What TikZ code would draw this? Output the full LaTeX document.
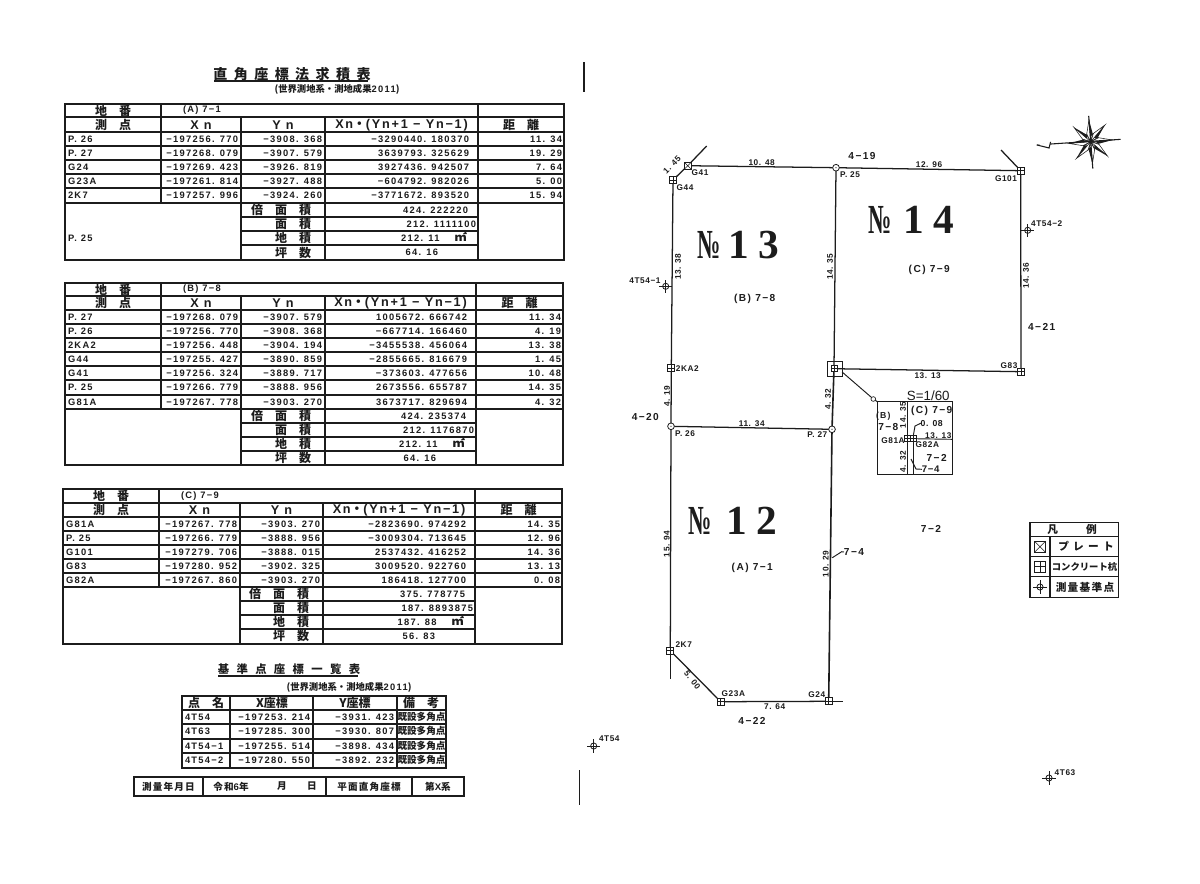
\documentclass[tikz,border=0pt]{standalone}
\usepackage{fontspec}
\setmainfont{Liberation Sans}
\newfontfamily\nf{Liberation Sans}[LetterSpace=14]
\newfontfamily\nfs{Liberation Sans}[LetterSpace=7]
\newfontfamily\jp{Noto Sans CJK JP}
\newfontfamily\jpt{Noto Sans CJK JP}[LetterSpace=46]
\newfontfamily\jpu{Noto Sans CJK JP}[LetterSpace=65]
\newfontfamily\jpp{Noto Sans CJK JP}[LetterSpace=40]
\newfontfamily\jpq{Noto Sans CJK JP}[LetterSpace=12]
\newfontfamily\se{Liberation Serif}
\newcommand\pxfont[2]{\fontsize{#1}{#2}\selectfont}
\definecolor{ink}{HTML}{1C1C1C}
\tikzset{
 x=0.75pt,y=-0.75pt,
 every node/.style={inner sep=0pt,outer sep=0pt,text=ink},
 tline/.style={draw=ink,line width=0.85pt},
 pline/.style={draw=ink,line width=0.95pt},
 thinl/.style={draw=ink,line width=0.7pt},
 num/.style={font=\nf\bfseries\pxfont{7}{8}},
 numl/.style={num,anchor=west},
 numr/.style={num,anchor=east},
 head/.style={font=\jp\bfseries\pxfont{9}{10}},
 lat/.style={font=\nf\bfseries\pxfont{9.5}{10}},
 lbl/.style={font=\nfs\bfseries\pxfont{6.2}{7}},
 mid/.style={font=\nf\bfseries\pxfont{7.6}{8}},
 stake/.style={rectangle,draw=ink,line width=0.6pt,minimum size=5.2pt,fill=white,
   path picture={\draw[line width=0.4pt,ink] (path picture bounding box.north)--(path picture bounding box.south)
     (path picture bounding box.west)--(path picture bounding box.east);}},
 plate/.style={rectangle,draw=ink,line width=0.6pt,minimum size=5.2pt,fill=white,
   path picture={\draw[line width=0.4pt,ink] (path picture bounding box.north west)--(path picture bounding box.south east)
     (path picture bounding box.south west)--(path picture bounding box.north east);}},
 pt/.style={circle,draw=ink,line width=0.6pt,minimum size=5pt,fill=white,
   path picture={\fill[ink] (path picture bounding box.center) circle (0.5pt);}},
 surv/.style={circle,draw=ink,line width=0.6pt,minimum size=4.6pt},
 big/.style={font=\se\bfseries\pxfont{31}{32}},
}
\newcommand\surveymark[2]{\node[surv] (#1) at (#2) {};
 \draw[ink,line width=0.6pt] ([xshift=-5pt]#1.center)--([xshift=5pt]#1.center) ([yshift=-5pt]#1.center)--([yshift=5pt]#1.center);}
\newcommand\bignum[3]{\node[big] (#1) at (#2) {#3};}
\newcommand\bigno[2]{\node[big] (#1) at (#2) {\scalebox{0.56}[1]{№}};}
\newcommand\sqm{\smash{\jp\bfseries\pxfont{9.5}{10}㎡}}
% grid: ytop, yh1, yh2, ydataend, ybot, {full lines}, {centre lines}
\newcommand\gridbody[7]{
 \draw[tline] (\xa,#1) rectangle (\xf,#5);
 \draw[tline] (\xa,#2)--(\xf,#2) (\xa,#3)--(\xf,#3) (\xa,#4)--(\xf,#4);
 \foreach \yy in {#6}{\draw[tline] (\xa,\yy)--(\xf,\yy);}
 \foreach \yy in {#7}{\draw[tline] (\xc,\yy)--(\xe,\yy);}
 \draw[tline] (\xb,#1)--(\xb,#4) (\xe,#1)--(\xe,#5);
 \draw[tline] (\xc,#2)--(\xc,#5) (\xd,#2)--(\xd,#5);
}
\newcommand\rowsdata[6]{% prefix, xlabel, xX, xY, xP, list
 \foreach \lab/\yy/\xv/\yv/\pv/\dv [count=\i] in {#6}{
  \node[numl] (#1l\i) at (#2,\yy) {\lab};
  \node[numr] (#1x\i) at (\xc-3,\yy) {\xv};
  \node[numr] (#1y\i) at (\xd-3,\yy) {\yv};
  \node[numr] (#1p\i) at (#5,\yy) {\pv};
  \node[numr] (#1d\i) at (\xf-2,\yy) {\dv};
 }}
\newcommand\headers[4]{% prefix, y1, y2, lot
 \node[head] (#1h1) at ({(\xa+\xb)/2},#2) {地　番};
 \node[numl] (#1lot) at (\xb+22,#2) {#4};
 \node[head] (#1h2) at ({(\xa+\xb)/2},#3) {測　点};
 \node[lat] (#1h3) at ({(\xb+\xc)/2},#3) {X n};
 \node[lat] (#1h4) at ({(\xc+\xd)/2},#3) {Y n};
 \node[lat] (#1h5) at ({(\xd+\xe)/2},#3) {Xn{\jp ・}(Yn+1 − Yn−1)};
 \node[head] (#1h6) at ({(\xe+\xf)/2},#3) {距　離};
}
\newcommand\areas[9]{% prefix, y1..y4, v1..v4
 \node[head,anchor=east] (#1s1) at (\xd-14,#2) {倍　面　積};
 \node[head,anchor=east] (#1s2) at (\xd-14,#3) {面　積};
 \node[head,anchor=east] (#1s3) at (\xd-14,#4) {地　積};
 \node[head,anchor=east] (#1s4) at (\xd-14,#5) {坪　数};
 \node[numr] (#1v1) at (\xe-10,#2) {#6};
 \node[numr] (#1v2) at (\xe-2,#3) {#7};
 \node[numr] (#1v3) at (\xe-11,#4) {#8\hspace{11pt}\sqm};
 \node[numr] (#1v4) at (\xe-40,#5) {#9};
}
\begin{document}
\begin{tikzpicture}
\useasboundingbox (0,0) rectangle (1200,883);
\fill[white] (0,0) rectangle (1200,883);
%% Titles
\node[font=\jpt\bfseries\pxfont{10.5}{11}] (t1) at (292,74) {直角座標法求積表};
\draw[ink,line width=0.8pt] (214,81)--(368,81);
\node[font=\jp\bfseries\pxfont{7}{8}] (t1s) at (337,89) {(世界測地系・測地成果{\nf 2011})};
%% Table A
\def\xa{65}\def\xb{161}\def\xc{241}\def\xd{325}\def\xe{478}\def\xf{564}
\gridbody{104}{117}{132}{203}{260}{146,160,174,188}{217,231,245}
\headers{A}{110.5}{125}{(A) 7−1}
\rowsdata{A}{68}{238}{322}{469}{
 P. 26/139/−197256. 770/−3908. 368/−3290440. 180370/11. 34,
 P. 27/153/−197268. 079/−3907. 579/3639793. 325629/19. 29,
 G24/167/−197269. 423/−3926. 819/3927436. 942507/7. 64,
 G23A/181/−197261. 814/−3927. 488/−604792. 982026/5. 00,
 2K7/195.5/−197257. 996/−3924. 260/−3771672. 893520/15. 94}
\node[numl] (AP) at (68,238) {P. 25};
\areas{A}{210}{224}{238}{252.5}{424. 222220}{212. 1111100}{212. 11}{64. 16}
%% Table B
\def\xa{65}\def\xb{161}\def\xc{241}\def\xd{325}\def\xe{476}\def\xf{563}
\gridbody{283}{296}{310}{409}{465}{324,338,352,366,380,395}{423,437,451}
\headers{B}{289.5}{303}{(B) 7−8}
\rowsdata{B}{68}{238}{322}{467}{
 P. 27/317/−197268. 079/−3907. 579/1005672. 666742/11. 34,
 P. 26/331/−197256. 770/−3908. 368/−667714. 166460/4. 19,
 2KA2/345/−197256. 448/−3904. 194/−3455538. 456064/13. 38,
 G44/359/−197255. 427/−3890. 859/−2855665. 816679/1. 45,
 G41/373/−197256. 324/−3889. 717/−373603. 477656/10. 48,
 P. 25/387.5/−197266. 779/−3888. 956/2673556. 655787/14. 35,
 G81A/402/−197267. 778/−3903. 270/3673717. 829694/4. 32}
\areas{B}{416}{430}{444}{458}{424. 235374}{212. 1176870}{212. 11}{64. 16}
%% Table C
\def\xa{63}\def\xb{159}\def\xc{240}\def\xd{323}\def\xe{475}\def\xf{562}
\gridbody{489}{503}{517}{587}{644}{531,545,559,573}{601,615,629}
\headers{C}{496}{510}{(C) 7−9}
\rowsdata{C}{66}{237}{320}{466}{
 G81A/524/−197267. 778/−3903. 270/−2823690. 974292/14. 35,
 P. 25/538/−197266. 779/−3888. 956/−3009304. 713645/12. 96,
 G101/552/−197279. 706/−3888. 015/2537432. 416252/14. 36,
 G83/566/−197280. 952/−3902. 325/3009520. 922760/13. 13,
 G82A/580/−197267. 860/−3903. 270/186418. 127700/0. 08}
\areas{C}{594}{608}{622}{636}{375. 778775}{187. 8893875}{187. 88}{56. 83}
%% Control point table
\node[font=\jpu\bfseries\pxfont{8.5}{9}] (t2) at (289,669) {基準点座標一覧表};
\draw[ink,line width=0.8pt] (218,676)--(358,676);
\node[font=\jp\bfseries\pxfont{7}{8}] (t2s) at (349,687) {(世界測地系・測地成果{\nf 2011})};
\draw[tline] (182,696) rectangle (446,768);
\foreach \yy in {710,724,739,753}{\draw[tline] (182,\yy)--(446,\yy);}
\foreach \xx in {230,313,397}{\draw[tline] (\xx,696)--(\xx,768);}
\node[head] (c1) at (206,703) {点　名};
\node[head] (c2) at (272,703) {X座標};
\node[head] (c3) at (355,703) {Y座標};
\node[head] (c4) at (421,703) {備　考};
\foreach \a/\yy/\b/\c [count=\i] in {
 4T54/717/−197253. 214/−3931. 423,
 4T63/731/−197285. 300/−3930. 807,
 4T54−1/746/−197255. 514/−3898. 434,
 4T54−2/760/−197280. 550/−3892. 232}{
  \node[numl] (cl\i) at (185,\yy) {\a};
  \node[numr] (cx\i) at (310,\yy) {\b};
  \node[numr] (cy\i) at (394,\yy) {\c};
  \node[font=\jp\bfseries\pxfont{7.2}{8}] (cn\i) at (421.5,\yy) {既設多角点};
}
%% Survey date strip
\draw[tline] (134,777) rectangle (464,796);
\foreach \xx in {203,326,412}{\draw[tline] (\xx,777)--(\xx,796);}
\node[font=\jpq\bfseries\pxfont{7.2}{8}] (d1) at (168.5,786.5) {測量年月日};
\node[font=\jpq\bfseries\pxfont{7.2}{8}] (d2) at (231,786.5) {令和{\nf 6}年};
\node[font=\jp\bfseries\pxfont{7.2}{8}] (d3) at (282,786.5) {月};
\node[font=\jp\bfseries\pxfont{7.2}{8}] (d4) at (312,786.5) {日};
\node[font=\jpq\bfseries\pxfont{7.2}{8}] (d5) at (369,786.5) {平面直角座標};
\node[font=\jpq\bfseries\pxfont{7.2}{8}] (d6) at (438,786.5) {第{\nf X}系};
%% Fold marks
\draw[ink,line width=0.9pt] (584,62)--(584,92);
\draw[ink,line width=0.9pt] (579.5,770)--(579.5,805);
%% Plan points
\node[pt] (P25) at (836,167.7) {};
\node[pt] (P26) at (671,426.3) {};
\node[pt] (P27) at (832,429.3) {};
\node[plate] (G41) at (687.7,165.7) {};
\node[stake] (G44) at (673,180) {};
\node[stake] (G101) at (1020.7,170.7) {};
\node[stake] (G83) at (1021,371.7) {};
\node[stake] (KA2) at (671.3,368) {};
\node[stake] (K7) at (670.3,650.7) {};
\node[stake] (G23A) at (720.7,701.7) {};
\node[stake] (G24) at (828.7,701.3) {};
\node[stake,minimum size=4.5pt] (G81) at (834,368.7) {};
\node[draw=ink,line width=0.6pt,minimum size=11.4pt] (PL) at (834.5,368.7) {};
\coordinate (e41) at (706.7,146);
\coordinate (e101) at (1001,150);
\coordinate (e7) at (670.3,679);
\coordinate (e24) at (843.3,701.3);
%% Plan lines
\draw[pline] (G41)--(P25); \draw[pline] (P25)--(G101);
\draw[pline] (G41)--(e41); \draw[pline] (G41)--(G44);
\draw[pline] (G101)--(e101);
\draw[pline] (G44)--(KA2); \draw[pline] (KA2)--(P26); \draw[pline] (P26)--(K7);
\draw[pline] (K7)--(e7);
\draw[pline] (K7)--(G23A); \draw[pline] (G23A)--(G24); \draw[pline] (G24)--(e24);
\draw[pline] (G101)--(G83); \draw[pline] (G81)--(G83);
\draw[pline] (P25)--(G81); \draw[pline,line width=1.2pt] (G81)--(P27);
\draw[pline,line width=1.2pt] (P27)--(G24);
\draw[pline] (P26)--(P27);
%% Detail inset
\node[draw=ink,line width=0.8pt,minimum width=56.5pt,minimum height=54.5pt] (inset) at (915,438) {};
\node[circle,draw=ink,line width=0.5pt,minimum size=3.5pt] (ci) at (873.3,399) {};
\draw[thinl] (PL.east |- 0,372)--(ci);
\draw[thinl] (ci)--(inset.north west);
\node[stake,minimum size=4.5pt] (G81A) at (907.3,438.7) {};
\node[stake,minimum size=4.5pt] (G82A) at (913.3,438.7) {};
\coordinate (i1) at (907.3,401.7); \coordinate (i2) at (907.3,474.3);
\coordinate (i3) at (913.3,474.3); \coordinate (i4) at (952.7,439.3);
\draw[thinl] (i1)--(G81A); \draw[thinl] (G81A)--(i2); \draw[thinl] (G82A)--(i3); \draw[thinl] (G82A)--(i4);
\node[font=\nfs\bfseries\pxfont{6.5}{7}] (l008) at (931.7,423.3) {0. 08};
\draw[thinl] (G82A.north) -- (915,426) -- (l008.west);
\node[font=\nfs\bfseries\pxfont{7.2}{8}] (l74b) at (930.7,469.3) {7−4};
\coordinate (s74) at (911,459);
\draw[thinl] (s74)--(916,469)--(l74b.west);
\node[mid] (ib) at (883.3,416) {\pxfont{6.5}{7}(B)};
\node[mid] (i78) at (888.3,427.3) {7−8};
\node[lbl] (i1435) at (903,415) [rotate=90] {14. 35};
\node[mid] (i79) at (931.7,411) {(C) 7−9};
\node[lbl] (i1313) at (938.3,435.7) {13. 13};
\node[lbl] (iG81) at (893,441) {G81A};
\node[lbl] (iG82) at (927.3,444.7) {G82A};
\node[lbl] (i432) at (903,461.7) [rotate=90] {4. 32};
\node[mid] (i72) at (936.7,458.3) {7−2};
\node[font=\rmfamily\pxfont{10}{11}] (scale) at (928.3,395.7) {S=1/60};
%% Plan labels
\node[lbl] at (700,172.7) (lG41) {G41};
\node[lbl] at (685,187.3) (lG44) {G44};
\node[lbl] at (850,175) (lP25) {P. 25};
\node[lbl] at (1006,178.3) (lG101) {G101};
\node[lbl] at (1009,365.3) (lG83) {G83};
\node[lbl] at (687.3,369) (lKA2) {2KA2};
\node[lbl] at (685,434) (lP26) {P. 26};
\node[lbl] at (817.3,435) (lP27) {P. 27};
\node[lbl] at (683.7,645) (lK7) {2K7};
\node[lbl] at (733.3,694) (lG23) {G23A};
\node[lbl] at (816.7,695) (lG24) {G24};
\node[lbl] at (761.7,162.7) (d1048) {10. 48};
\node[lbl] at (929,165) (d1296) {12. 96};
\node[lbl] at (927.7,375.3) (d1313) {13. 13};
\node[lbl] at (751.7,424) (d1134) {11. 34};
\node[lbl] at (774.7,706.7) (d764) {7. 64};
\node[lbl,rotate=45] at (672,165) (d145) {1. 45};
\node[lbl,rotate=90] at (678,266.7) (d1338) {13. 38};
\node[lbl,rotate=90] at (830,266.7) (d1435) {14. 35};
\node[lbl,rotate=90] at (1026,275.7) (d1436) {14. 36};
\node[lbl,rotate=90] at (828,399.3) (d432) {4. 32};
\node[lbl,rotate=90] at (667,396) (d419) {4. 19};
\node[lbl,rotate=90] at (666.7,544) (d1594) {15. 94};
\node[lbl,rotate=90] at (825.7,564) (d1029) {10. 29};
\node[lbl,rotate=-52] at (692.3,680) (d500) {5. 00};
\node[mid] at (862,155.7) (n419) {4−19};
\node[mid] at (645.3,417) (n420) {4−20};
\node[mid] at (1041.7,327.3) (n421) {4−21};
\node[mid] at (752,721.3) (n422) {4−22};
\node[mid] at (931,529) (n72) {7−2};
\node[mid] at (854,552) (n74) {7−4};
\coordinate (s74b) at (832.3,557.7);
\draw[thinl] (s74b)--(841.7,551.7)--(n74.west);
\node[mid] at (754.7,299.3) (lotB) {(B) 7−8};
\node[mid] at (929.3,269.7) (lotC) {(C) 7−9};
\node[mid] at (752.3,568) (lotA) {(A) 7−1};
%% Lot numbers
\bigno{no13}{709,245} \bignum{n13a}{739,245}{1} \bignum{n13b}{769.3,245}{3}
\bigno{no14}{880,220} \bignum{n14a}{914.3,220}{1} \bignum{n14b}{944,220}{4}
\bigno{no12}{700,520.7} \bignum{n12a}{736.7,520.7}{1} \bignum{n12b}{766.7,520.7}{2}
%% Survey marks
\surveymark{T541}{665.7,286.3} \node[lbl] at (645,280.3) (lT541) {4T54−1};
\surveymark{T542}{1027.7,230.3} \node[lbl] at (1046.7,223.7) (lT542) {4T54−2};
\surveymark{T54}{593.7,746} \node[lbl] at (609.3,739) (lT54) {4T54};
\surveymark{T63}{1049,778} \node[lbl] at (1065,773) (lT63) {4T63};
%% Compass
\begin{scope}[shift={(1090.7,141.7)},rotate=4.5]
 \foreach \a in {0,45,...,315}{
  \begin{scope}[rotate=\a]
   \draw[ink,line width=0.4pt,fill=white] (0,0)--(22,0)--(7,-3.6)--cycle;
   \fill[ink] (5,0)--(22,0)--(7,2.8)--cycle;
  \end{scope}}
 \foreach \a in {22.5,67.5,...,337.5}{
  \draw[ink,line width=0.4pt] (0,0)--(\a:9);}
 \draw[ink,line width=0.8pt] (-54,-1)--(30,0);
 \draw[ink,line width=0.8pt] (0,-26)--(0,27);
 \draw[ink,line width=0.8pt,fill=white] (-54,-1)--(-42,3)--(-40,-3);
\end{scope}
%% Legend
\draw[tline] (1030,522.7) rectangle (1118.3,597.3);
\foreach \yy in {536.7,556.7,576.7}{\draw[tline] (1030,\yy)--(1118.3,\yy);}
\draw[tline] (1050,536.7)--(1050,597.3);
\node[font=\jp\bfseries\pxfont{8}{9}] (lg0) at (1072,529.7) {凡\hspace{21pt}例};
\node[plate,minimum size=8pt] (lg1) at (1040,546.7) {};
\node[stake,minimum size=8pt] (lg2) at (1040,566.7) {};
\surveymark{lg3}{1040,587}
\node[font=\jpp\bfseries\pxfont{8}{9}] (lt1) at (1086,546.7) {プレート};
\node[font=\jp\bfseries\pxfont{7}{9}] (lt2) at (1084.5,566.7) {コンクリート杭};
\node[font=\jpq\bfseries\pxfont{8}{9}] (lt3) at (1085,587) {測量基準点};
\end{tikzpicture}
\end{document}
